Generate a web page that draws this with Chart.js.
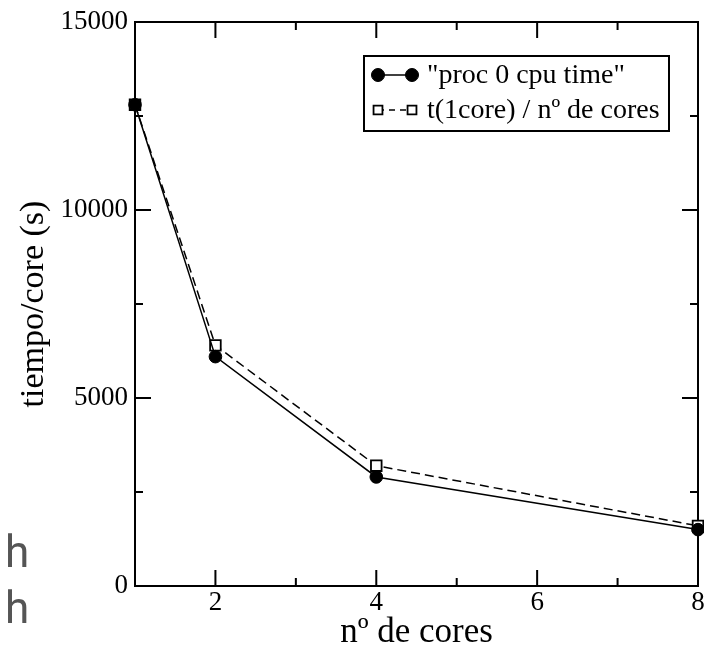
<!DOCTYPE html>
<html>
<head>
<meta charset="utf-8">
<script src="https://cdn.jsdelivr.net/npm/chart.js@4.4.0/dist/chart.umd.min.js"></script>
<style>
body { margin: 0; background: #fff; }
#wrap { position: relative; width: 704px; height: 647px; }
.hh { position: absolute; left: 5px; font-family: Roboto, sans-serif; font-size: 44px; line-height: 44px; color: #555; }
</style>
</head>
<body>
<div id="wrap">
	<canvas id="timeChart"></canvas>
	<div class="hh" style="top:530px">h</div>
	<div class="hh" style="top:586px">h</div>
</div>
<script>
// Data
var cores = [1, 2, 4, 8];
var procTime = [12800, 6100, 2900, 1500];
var idealTime = [12800, 6400, 3200, 1600];
var xTickLabels = [2, 4, 6, 8];
var yTickLabels = [0, 5000, 10000, 15000];

var serif = '"Liberation Serif", "Times New Roman", serif';
Chart.defaults.font.family = serif;
Chart.defaults.color = '#000';

function toPoints(values) {
	return cores.map(function (c, i) { return { x: c, y: values[i] }; });
}

// Frame with inward ticks (major + minor), like xmgrace
var framePlugin = {
	id: 'frame',
	beforeDatasetsDraw: function (chart) {
		var ctx = chart.ctx;
		var a = chart.chartArea;
		var xs = chart.scales.x, ys = chart.scales.y;
		ctx.save();
		ctx.strokeStyle = '#000';
		ctx.lineWidth = 2;
		ctx.strokeRect(a.left, a.top, a.right - a.left, a.bottom - a.top);
		ctx.beginPath();
		xs.ticks.forEach(function (t) {
			var px = xs.getPixelForValue(t.value);
			var len = xTickLabels.indexOf(t.value) >= 0 ? 16 : 8;
			ctx.moveTo(px, a.bottom); ctx.lineTo(px, a.bottom - len);
			ctx.moveTo(px, a.top); ctx.lineTo(px, a.top + len);
		});
		ys.ticks.forEach(function (t) {
			var py = ys.getPixelForValue(t.value);
			var len = yTickLabels.indexOf(t.value) >= 0 ? 16 : 8;
			ctx.moveTo(a.left, py); ctx.lineTo(a.left + len, py);
			ctx.moveTo(a.right, py); ctx.lineTo(a.right - len, py);
		});
		ctx.stroke();
		ctx.restore();
	}
};

// Boxed legend in the top right corner
var legendPlugin = {
	id: 'boxLegend',
	afterDraw: function (chart) {
		var ctx = chart.ctx;
		var a = chart.chartArea;
		var left = a.right - 334, top = a.top + 34, w = 305, h = 75;
		ctx.save();
		ctx.fillStyle = '#fff';
		ctx.fillRect(left, top, w, h);
		ctx.strokeStyle = '#000';
		ctx.lineWidth = 2;
		ctx.strokeRect(left, top, w, h);
		chart.data.datasets.forEach(function (ds, i) {
			var y = top + 19 + i * 35;
			var x1 = left + 14, x2 = left + 48;
			ctx.strokeStyle = ds.borderColor;
			ctx.lineWidth = ds.borderWidth;
			ctx.setLineDash(ds.legendDash);
			ctx.beginPath();
			ctx.moveTo(x1, y); ctx.lineTo(x2, y);
			ctx.stroke();
			ctx.setLineDash([]);
			[x1, x2].forEach(function (x) {
				ctx.fillStyle = ds.pointBackgroundColor;
				ctx.strokeStyle = ds.pointBorderColor;
				ctx.lineWidth = ds.pointBorderWidth;
				Chart.helpers.drawPoint(ctx, {
					pointStyle: ds.pointStyle,
					radius: ds.legendRadius,
					rotation: 0,
					borderWidth: ds.pointBorderWidth
				}, x, y);
			});
			ctx.fillStyle = '#000';
			ctx.font = '28px ' + serif;
			ctx.textBaseline = 'middle';
			ctx.textAlign = 'left';
			ctx.fillText(ds.label, left + 63, y + 1);
		});
		ctx.restore();
	}
};

var chart = new Chart(document.getElementById('timeChart').getContext('2d'), {
	type: 'line',
	data: {
		datasets: [{
			label: '"proc 0 cpu time"',
			data: toPoints(procTime),
			borderColor: '#000',
			borderWidth: 1.5,
			pointStyle: 'circle',
			pointRadius: 6.3,
			pointBackgroundColor: '#000',
			pointBorderColor: '#000',
			pointBorderWidth: 1,
			legendRadius: 6.5,
			legendDash: [],
			clip: false
		}, {
			label: 't(1core) / nº de cores',
			data: toPoints(idealTime),
			borderColor: '#000',
			borderWidth: 1.5,
			borderDash: [9, 5],
			pointStyle: 'rect',
			pointRadius: 7.5,
			pointBackgroundColor: '#fff',
			pointBorderColor: '#000',
			pointBorderWidth: 1.8,
			legendRadius: 6.3,
			legendDash: [6, 5],
			clip: false
		}]
	},
	options: {
		animation: false,
		responsive: true,
		maintainAspectRatio: false,
		layout: { autoPadding: false, padding: { top: 22, right: 0, bottom: 0, left: 17 } },
		plugins: { legend: { display: false }, tooltip: { enabled: false } },
		scales: {
			x: {
				type: 'linear',
				min: 1,
				max: 8,
				grid: { display: false, drawTicks: false },
				border: { display: false },
				// the last label runs off the page edge, as in the original
				afterFit: function (scale) { scale.paddingRight = 6; },
				ticks: {
					stepSize: 1,
					padding: 3,
					font: { size: 27, lineHeight: 1 },
					maxRotation: 0,
					autoSkip: false,
					callback: function (value) {
						return xTickLabels.indexOf(value) >= 0 ? String(value) : '';
					}
				},
				title: {
					display: true,
					text: 'nº de cores',
					font: { size: 35, lineHeight: 0.8 },
					padding: { top: 0, bottom: 0 }
				}
			},
			y: {
				min: 0,
				max: 15000,
				grid: { display: false, drawTicks: false },
				border: { display: false },
				ticks: {
					stepSize: 2500,
					padding: 7,
					font: { size: 27, lineHeight: 1 },
					autoSkip: false,
					callback: function (value) {
						return yTickLabels.indexOf(value) >= 0 ? String(value) : '';
					}
				},
				title: {
					display: true,
					text: 'tiempo/core (s)',
					font: { size: 34, lineHeight: 1 },
					padding: { top: 0, bottom: 2.5 }
				}
			}
		}
	},
	plugins: [framePlugin, legendPlugin]
});
</script>
</body>
</html>
